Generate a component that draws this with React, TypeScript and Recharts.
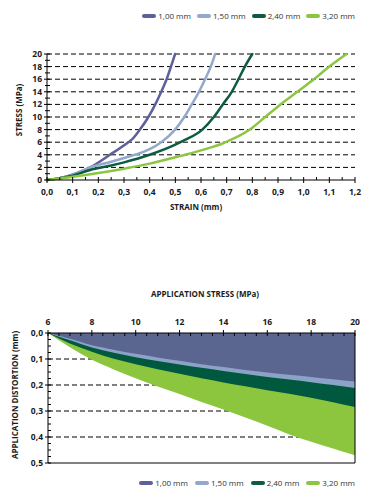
import React from 'react';
import { LineChart, Line, AreaChart, Area, XAxis, YAxis, CartesianGrid, ReferenceLine, Label } from 'recharts';

const FONT = '"Open Sans", "DejaVu Sans", sans-serif';

const sizes = ['1,00 mm', '1,50 mm', '2,40 mm', '3,20 mm'];
const lineColors = ['#5d609a', '#93a8cc', '#0d5c42', '#8cc641'];
const areaColors = ['#5a6690', '#8ca2c6', '#00583f', '#8cc63f'];

// stress / strain curves (strain in mm, stress in MPa)
const strain100 = [0, 0.05, 0.11, 0.168, 0.245, 0.317, 0.33, 0.362, 0.395, 0.422, 0.445, 0.466, 0.483, 0.499];
const stress100 = [0, 0.3, 1, 2, 4, 6, 6.4, 8, 10, 12, 14, 16, 18, 20];

const strain150 = [0, 0.05, 0.1, 0.168, 0.25, 0.3, 0.35, 0.4, 0.445, 0.499, 0.535, 0.564, 0.592, 0.616, 0.638, 0.655];
const stress150 = [0, 0.3, 0.8, 2, 2.9, 3.5, 4.1, 4.9, 6, 8, 10, 12, 14, 16, 18, 20];

const strain240 = [0, 0.05, 0.1, 0.168, 0.25, 0.3, 0.4, 0.5, 0.53, 0.605, 0.65, 0.685, 0.72, 0.746, 0.771, 0.8];
const stress240 = [0, 0.3, 0.7, 1.6, 2.3, 2.8, 4, 5.6, 6.2, 8, 10, 12, 14, 16, 18, 20];

const strain320 = [0, 0.1, 0.2, 0.3, 0.4, 0.5, 0.6, 0.69, 0.79, 0.85, 0.91, 0.975, 1.04, 1.1, 1.167];
const stress320 = [0, 0.5, 1.1, 1.8, 2.6, 3.6, 4.7, 5.9, 8, 10, 12, 14, 16, 18, 20];

// application distortion (mm) vs application stress (MPa)
const appStress = [6, 7, 8, 9, 10, 11, 12, 13, 14, 15, 16, 17, 18, 19, 20];
const dist100 = [0, 0.022, 0.047, 0.064, 0.08, 0.094, 0.107, 0.12, 0.131, 0.142, 0.152, 0.161, 0.169, 0.178, 0.187];
const dist150 = [0, 0.028, 0.056, 0.076, 0.093, 0.108, 0.121, 0.134, 0.146, 0.158, 0.169, 0.179, 0.189, 0.2, 0.212];
const dist240 = [0, 0.04, 0.072, 0.099, 0.12, 0.139, 0.157, 0.174, 0.19, 0.205, 0.22, 0.234, 0.249, 0.266, 0.285];
const dist320 = [0, 0.055, 0.103, 0.14, 0.174, 0.206, 0.235, 0.265, 0.294, 0.325, 0.357, 0.39, 0.418, 0.444, 0.47];

const strainTicks = [0, 0.1, 0.2, 0.3, 0.4, 0.5, 0.6, 0.7, 0.8, 0.9, 1.0, 1.1, 1.2];
const stressTicks = [0, 2, 4, 6, 8, 10, 12, 14, 16, 18, 20];
const appStressTicks = [6, 8, 10, 12, 14, 16, 18, 20];
const distTicks = [0, 0.1, 0.2, 0.3, 0.4, 0.5];

const zip = (xs: number[], ys: number[]) => xs.map((x, i) => ({ x, y: ys[i] }));
const curves = [zip(strain100, stress100), zip(strain150, stress150), zip(strain240, stress240), zip(strain320, stress320)];

const areaRows = appStress.map((s, i) => ({ s, d100: dist100[i], d150: dist150[i], d240: dist240[i], d320: dist320[i] }));

// split each major step into n parts for the small ticks
const withMinor = (major: number[], n: number) => {
  const out: number[] = [];
  major.forEach((v, i) => {
    out.push(v);
    if (i < major.length - 1) {
      const step = (major[i + 1] - v) / n;
      for (let k = 1; k < n; k++) out.push(+(v + step * k).toFixed(4));
    }
  });
  return out;
};

const fmt = (v: number) => v.toFixed(1).replace('.', ',');
const isIn = (list: number[], v: number) => list.some((m) => Math.abs(m - v) < 1e-6);

const tickText = { fontSize: 8.5, fontWeight: 700, fill: '#1a1a1a', fontFamily: FONT };

function StrainTick({ x = 0, y = 0, payload }: any) {
  const v = payload?.value ?? 0;
  const major = isIn(strainTicks, v);
  return (
    <g>
      <line x1={x} x2={x} y1={y - 3} y2={y + (major ? 3 : 0)} stroke="#000" />
      {major && <text x={x} y={y + 15} textAnchor="middle" {...tickText}>{fmt(v)}</text>}
    </g>
  );
}

function StressTick({ x = 0, y = 0, payload }: any) {
  const v = payload?.value ?? 0;
  const major = isIn(stressTicks, v);
  return (
    <g>
      <line x1={x - (major ? 3 : 2)} x2={x + 3} y1={y} y2={y} stroke="#000" />
      {major && <text x={x - 5} y={y} dy="0.35em" textAnchor="end" {...tickText}>{v}</text>}
    </g>
  );
}

function AppStressTick({ x = 0, y = 0, payload }: any) {
  const v = payload?.value ?? 0;
  const major = isIn(appStressTicks, v);
  return (
    <g>
      <line x1={x} x2={x} y1={y - (major ? 3 : 0)} y2={y + 3} stroke="#000" />
      {major && <text x={x} y={y - 8} textAnchor="middle" {...tickText}>{v}</text>}
    </g>
  );
}

function DistTick({ x = 0, y = 0, payload }: any) {
  const v = payload?.value ?? 0;
  const major = isIn(distTicks, v);
  return (
    <g>
      <line x1={x - (major ? 3 : 0)} x2={x + 3} y1={y} y2={y} stroke="#000" />
      {major && <text x={x - 5} y={y} dy="0.35em" textAnchor="end" {...tickText}>{fmt(v)}</text>}
    </g>
  );
}

function Title({ px, py, text, rotate }: any) {
  return (
    <text
      transform={`translate(${px},${py})${rotate ? ' rotate(-90)' : ''}`}
      textAnchor="middle"
      dy="0.35em"
      fontSize={8}
      fontWeight={700}
      fill="#1a1a1a"
      fontFamily={FONT}
    >
      {text}
    </text>
  );
}

function LegendStrip({ top, gap }: { top: number; gap: number }) {
  return (
    <div
      style={{
        position: 'absolute',
        top,
        right: 20,
        display: 'flex',
        alignItems: 'center',
        fontSize: 8,
        lineHeight: '10px',
        color: '#333',
        whiteSpace: 'nowrap',
        fontFamily: FONT,
      }}
    >
      {sizes.map((s, i) => (
        <div key={s} style={{ display: 'flex', alignItems: 'center', marginLeft: i ? gap : 0 }}>
          <span style={{ display: 'inline-block', width: 14, height: 4, borderRadius: 2, background: lineColors[i], marginRight: 2 }} />
          {s}
        </div>
      ))}
    </div>
  );
}

export default function App() {
  return (
    <div style={{ position: 'absolute', left: 0, top: 0, width: 375, height: 498, background: '#fff', fontFamily: FONT }}>
      <div style={{ position: 'absolute', left: 0, top: 0 }}>
        <LineChart width={375} height={225} margin={{ top: 54, right: 20, left: 10, bottom: 10 }}>
          <CartesianGrid vertical={false} horizontalValues={[2, 4, 6, 8, 10, 12, 14, 16, 18, 20]} stroke="#000" strokeDasharray="5 3" />
          <XAxis
            type="number"
            dataKey="x"
            domain={[0, 1.2]}
            ticks={withMinor(strainTicks, 2)}
            interval={0}
            tickSize={0}
            tickMargin={0}
            tickLine={false}
            tick={<StrainTick />}
            axisLine={{ stroke: '#000' }}
            height={35}
          >
            <Label content={<Title px={196} py={207} text="STRAIN (mm)" />} />
          </XAxis>
          <YAxis
            type="number"
            domain={[0, 20]}
            ticks={withMinor(stressTicks, 2)}
            interval={0}
            tickSize={0}
            tickMargin={0}
            tickLine={false}
            tick={<StressTick />}
            axisLine={{ stroke: '#000' }}
            width={37}
          >
            <Label content={<Title px={19} py={110} text="STRESS (MPa)" rotate />} />
          </YAxis>
          {curves.map((c, i) => (
            <Line
              key={sizes[i]}
              data={c}
              dataKey="y"
              type="monotone"
              stroke={lineColors[i]}
              strokeWidth={2.5}
              strokeLinecap="round"
              dot={false}
              isAnimationActive={false}
            />
          ))}
        </LineChart>
      </div>
      <LegendStrip top={11} gap={6} />

      <div style={{ position: 'absolute', left: 0, top: 230 }}>
        <AreaChart width={375} height={268} data={areaRows} margin={{ top: 58, right: 20, left: 10, bottom: 35 }}>
          <CartesianGrid vertical={false} horizontalValues={[0.1, 0.2, 0.3, 0.4]} stroke="#000" strokeDasharray="5 3" />
          <XAxis
            type="number"
            dataKey="s"
            orientation="top"
            domain={[6, 20]}
            ticks={withMinor(appStressTicks, 4)}
            interval={0}
            tickSize={0}
            tickMargin={0}
            tickLine={false}
            tick={<AppStressTick />}
            axisLine={{ stroke: '#000' }}
            height={45}
          >
            <Label content={<Title px={205} py={64} text="APPLICATION STRESS (MPa)" />} />
          </XAxis>
          <YAxis
            type="number"
            reversed
            domain={[0, 0.5]}
            ticks={withMinor(distTicks, 4)}
            interval={0}
            tickSize={0}
            tickMargin={0}
            tickLine={false}
            tick={<DistTick />}
            axisLine={{ stroke: '#000' }}
            width={38}
          >
            <Label content={<Title px={15} py={165} text="APPLICATION DISTORTION (mm)" rotate />} />
          </YAxis>
          <Area dataKey="d320" type="monotone" fill={areaColors[3]} fillOpacity={1} stroke="none" isAnimationActive={false} />
          <Area dataKey="d240" type="monotone" fill={areaColors[2]} fillOpacity={1} stroke="none" isAnimationActive={false} />
          <Area dataKey="d150" type="monotone" fill={areaColors[1]} fillOpacity={1} stroke="none" isAnimationActive={false} />
          <Area dataKey="d100" type="monotone" fill={areaColors[0]} fillOpacity={1} stroke="none" isAnimationActive={false} />
          <ReferenceLine x={20} stroke="#000" />
          <ReferenceLine y={0.5} stroke="#000" />
        </AreaChart>
      </div>
      <LegendStrip top={478} gap={7} />
    </div>
  );
}
